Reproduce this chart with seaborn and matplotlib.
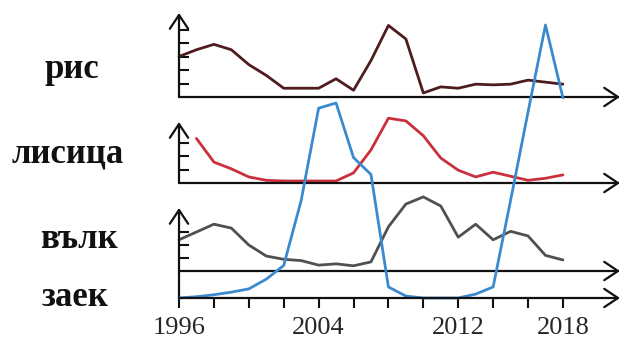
import matplotlib
matplotlib.use("Agg")
import matplotlib.pyplot as plt
import seaborn as sns

# values (units: one y tick step)
years = list(range(1996, 2019))
rice = [3.0, 3.5, 3.9, 3.5, 2.4, 1.6, 0.65, 0.65, 0.65, 1.35, 0.5, 2.7,
        5.3, 4.3, 0.3, 0.75, 0.65, 0.95, 0.9, 0.95, 1.25, 1.1, 0.95]
fox_years = list(range(1997, 2019))
fox = [3.3, 1.55, 1.05, 0.45, 0.2, 0.15, 0.15, 0.15, 0.15, 0.75, 2.45,
       4.8, 4.6, 3.5, 1.85, 0.95, 0.45, 0.8, 0.5, 0.2, 0.35, 0.6]
wolf = [2.4, 3.0, 3.6, 3.3, 2.0, 1.15, 0.9, 0.8, 0.45, 0.55, 0.4, 0.7,
        3.4, 5.15, 5.7, 5.0, 2.6, 3.6, 2.4, 3.05, 2.7, 1.2, 0.85]
hare = [0.0, 0.1, 0.25, 0.45, 0.7, 1.45, 2.5, 7.5, 14.6, 15.0, 10.8, 9.5,
        0.85, 0.15, 0.0, 0.0, 0.0, 0.3, 0.85, 7.5, 14.3, 21.0, 15.4]

names = ["рис", "лисица", "вълк", "заек"]
tick_years = list(range(1996, 2019, 2))
tick_labels = ["1996", "", "", "", "2004", "", "", "", "2012", "", "", "2018"]

W, H = 625, 343


def box(left, top, right, bottom):
    return [left / W, 1 - bottom / H, (right - left) / W, (bottom - top) / H]


def arrow(ax, start, end):
    ax.annotate("", xy=end, xytext=start, xycoords="axes fraction",
                textcoords="axes fraction", annotation_clip=False,
                arrowprops=dict(arrowstyle="->,head_length=0.45,head_width=0.3",
                                lw=1.6, color="#111111", mutation_scale=22,
                                shrinkA=0, shrinkB=0))


def setup(ax, top_val, nticks):
    ax.set_facecolor("none")
    ax.set_xlim(1996, 2021.27)
    ax.set_ylim(0, top_val)
    for s in ax.spines.values():
        s.set_visible(False)
    ax.set_xlabel("")
    ax.set_ylabel("")
    ax.set_yticks(list(range(1, nticks + 1)))
    ax.tick_params(axis="y", left=True, direction="in", length=7.5, width=1.5,
                   color="#111111", labelleft=False)
    ax.tick_params(axis="x", bottom=False, labelbottom=False)


sns.set_style("white")
plt.rcParams["font.family"] = ["Liberation Serif", "DejaVu Serif"]

fig = plt.figure(figsize=(6.25, 3.43), dpi=100)

ax_r = fig.add_axes(box(179, 13, 620, 97))
sns.lineplot(x=years, y=rice, ax=ax_r, color="#4e1c1e", lw=2.0, clip_on=False)
setup(ax_r, 84 / 13.5, 5)
arrow(ax_r, (0, 0), (1, 0))
arrow(ax_r, (0, 0), (0, 1))

ax_f = fig.add_axes(box(179, 122, 620, 183))
sns.lineplot(x=fox_years, y=fox, ax=ax_f, color="#c9303c", lw=2.0, clip_on=False)
setup(ax_f, 61 / 13.5, 3)
arrow(ax_f, (0, 0), (1, 0))
arrow(ax_f, (0, 0), (0, 1))

ax_w = fig.add_axes(box(179, 208, 620, 271))
sns.lineplot(x=years, y=wolf, ax=ax_w, color="#505050", lw=2.0, clip_on=False)
setup(ax_w, 63 / 13, 3)
arrow(ax_w, (0, 0), (1, 0))
arrow(ax_w, (0, -27 / 63), (0, 1))

ax_h = fig.add_axes(box(179, 13, 620, 298))
sns.lineplot(x=years, y=hare, ax=ax_h, color="#3b8ad0", lw=2.0, clip_on=False)
setup(ax_h, 285 / 13, 0)
ax_h.set_yticks([])
arrow(ax_h, (0, 0), (1, 0))
ax_h.set_xticks(tick_years)
ax_h.set_xticklabels(tick_labels)
ax_h.tick_params(axis="x", bottom=True, labelbottom=True, direction="out",
                 length=7, width=1.5, color="#111111", pad=7, labelsize=19)

label_pos = [(72, 69), (68, 154), (79, 240), (75, 297)]
for name, (lx, ly) in zip(names, label_pos):
    fig.text(lx / W, 1 - ly / H, name, ha="center", va="center",
             fontsize=25, fontweight="bold", color="#111111")

fig.savefig("out.png", dpi=100)
